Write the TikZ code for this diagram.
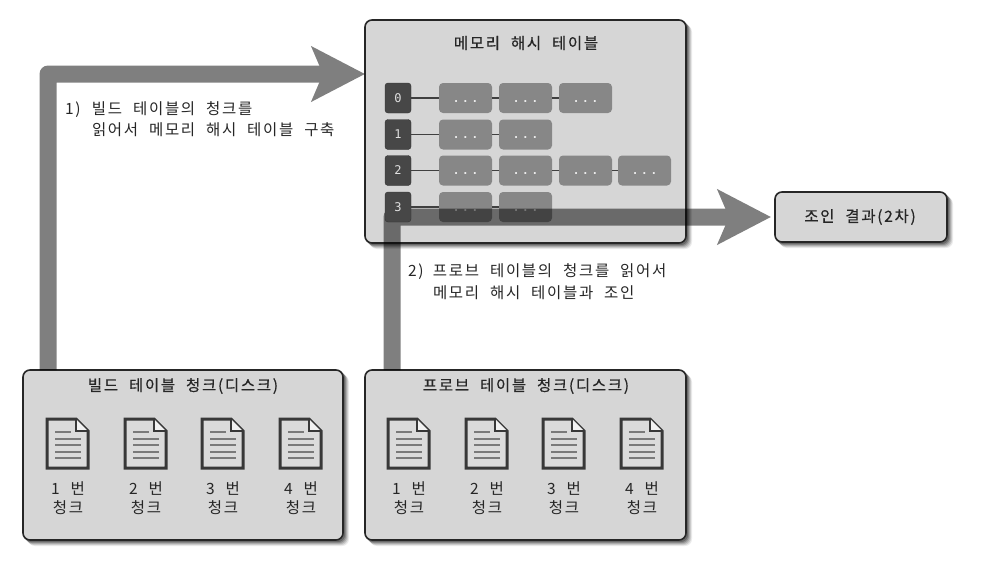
\documentclass[tikz,border=0pt]{standalone}
\usepackage{fontspec}
\usetikzlibrary{arrows.meta}
\setmainfont{Noto Sans CJK KR}
\newfontfamily\krfont[LetterSpace=11,WordSpace=2.1]{Noto Sans CJK KR}
\newfontfamily\krtitle[LetterSpace=11,WordSpace=2.1,FakeBold=0.5]{Noto Sans CJK KR}
\newfontfamily\keyfont{DejaVu Sans Mono}
\newfontfamily\dotfont[LetterSpace=25]{DejaVu Sans Mono}
\tikzset{
  every node/.style={inner sep=0pt,outer sep=0pt},
  panel/.style={draw=black!85,line width=1.6pt,fill=black!16,rounded corners=7pt,anchor=north west},
  keybox/.style={fill=black!72,draw=black!80,line width=.4pt,rounded corners=3pt,minimum width=26pt,minimum height=30pt,anchor=west,text=black!12,font=\keyfont\fontsize{12}{12}\selectfont},
  cellbox/.style={fill=black!47,rounded corners=4pt,minimum width=53pt,minimum height=30pt,anchor=west,text=black!8,text height=8pt,text depth=0pt,font=\dotfont\bfseries\fontsize{11}{11}\selectfont},
  link/.style={draw=black!75,line width=1.2pt},
  flow/.style={draw=black,line width=17pt,line join=round,-{Stealth[length=53pt,width=54pt,inset=11pt]}},
  label/.style={font=\krfont\fontsize{15.5}{21.5}\selectfont,text=black!85,align=left},
  title/.style={font=\krtitle\fontsize{15.5}{16}\selectfont,text=black!85,anchor=center},
  chunk/.style={font=\krfont\fontsize{15.5}{19.5}\selectfont,text=black!85,align=center,anchor=north},
}
\newcommand{\softshadow}[4]{%
  \foreach \d/\o in {6/.08,5/.12,4/.15,3/.2,2/.25}{
    \fill[black,opacity=\o,rounded corners=7pt] (#1+\d-1,#2+\d-1) rectangle (#3+\d,#4+\d);
  }}
\newcommand{\docicon}[2]{%
  \begin{scope}[shift={(#1,#2)}]
    \draw[draw=black!78,line width=3pt,fill=black!14,line join=miter] (0,0) -- (29,0) -- (41,12) -- (41,49) -- (0,49) -- cycle;
    \draw[draw=black!78,line width=1.4pt,fill=black!5] (29,0) -- (29,12) -- (41,12);
    \draw[black!52,line width=2pt] (8,13) -- (24,13);
    \foreach \yy in {19.5,26,32.5,39}{\draw[black!52,line width=2pt] (8,\yy) -- (34,\yy);}
  \end{scope}}
\newcommand{\lab}[2]{\makebox[#1pt][l]{#2}}
\begin{document}
\begin{tikzpicture}[x=1pt,y=-1pt]
\useasboundingbox (0,0) rectangle (987,562);
\softshadow{365}{20}{686}{243}
\softshadow{23}{370}{343}{540}
\softshadow{365}{370}{686}{540}
\softshadow{775}{192}{947}{242}
\node[panel,minimum width=321pt,minimum height=223pt] (hash) at (365,20) {};
\node[panel,minimum width=320pt,minimum height=170pt] (build) at (23,370) {};
\node[panel,minimum width=321pt,minimum height=170pt] (probe) at (365,370) {};
\node[panel,minimum width=172pt,minimum height=50pt] (result) at (775,192) {};
\node[title] (hashT) at (526,43) {메모리 해시 테이블};
\node[title] (buildT) at (183,386) {빌드 테이블 청크(디스크)};
\node[title] (probeT) at (526,386) {프로브 테이블 청크(디스크)};
\node[title] (resultT) at (860,217) {조인 결과(2차)};
% hash cells
\foreach \r/\y/\n in {0/98/3,1/134.5/2,2/170.5/4,3/207/2}{
  \foreach \c/\x in {1/439,2/499,3/559,4/618}{
    \ifnum\c>\n\else
      \node[cellbox] (c\r\c) at (\x,\y) {...};
    \fi
  }
}
% arrows
\coordinate (bs) at (48,370);
\coordinate (be) at (365,74);
\coordinate (ps) at (392,370);
\coordinate (pc) at (392,217);
\coordinate (pe) at (771,217);
\begin{scope}[transparency group,opacity=.5]
\draw[flow] (bs) |- (be);
\end{scope}
\begin{scope}[transparency group,opacity=.5]
\draw[flow] (ps) -- (pc) -- (pe);
\end{scope}
% keys and links
\foreach \r/\y/\n in {0/98/3,1/134.5/2,2/170.5/4,3/207/2}{
  \node[keybox] (k\r) at (385,\y) {\r};
  \draw[link] (k\r) -- (c\r1);
  \foreach \a/\b in {1/2,2/3,3/4}{
    \ifnum\b>\n\else
      \draw[link] (c\r\a) -- (c\r\b);
    \fi
  }
}
\node[label,anchor=north west] (l1) at (65,101.5) {\lab{27}{1)}빌드 테이블의 청크를\\\lab{27}{}읽어서 메모리 해시 테이블 구축};
\node[label,anchor=north west] (l2) at (408,264) {\lab{25}{2)}프로브 테이블의 청크를 읽어서\\\lab{25}{}메모리 해시 테이블과 조인};
% docs
\foreach \i/\x/\t in {1/47/1,2/125/2,3/202/3,4/280/4}{
  \docicon{\x}{419}
  \node[chunk] (bc\i) at (\x+21,481.5) {\t{} 번\\청크};
}
\foreach \i/\x/\t in {1/388/1,2/466/2,3/543/3,4/621/4}{
  \docicon{\x}{419}
  \node[chunk] (pc\i) at (\x+21,481.5) {\t{} 번\\청크};
}
\end{tikzpicture}
\end{document}
